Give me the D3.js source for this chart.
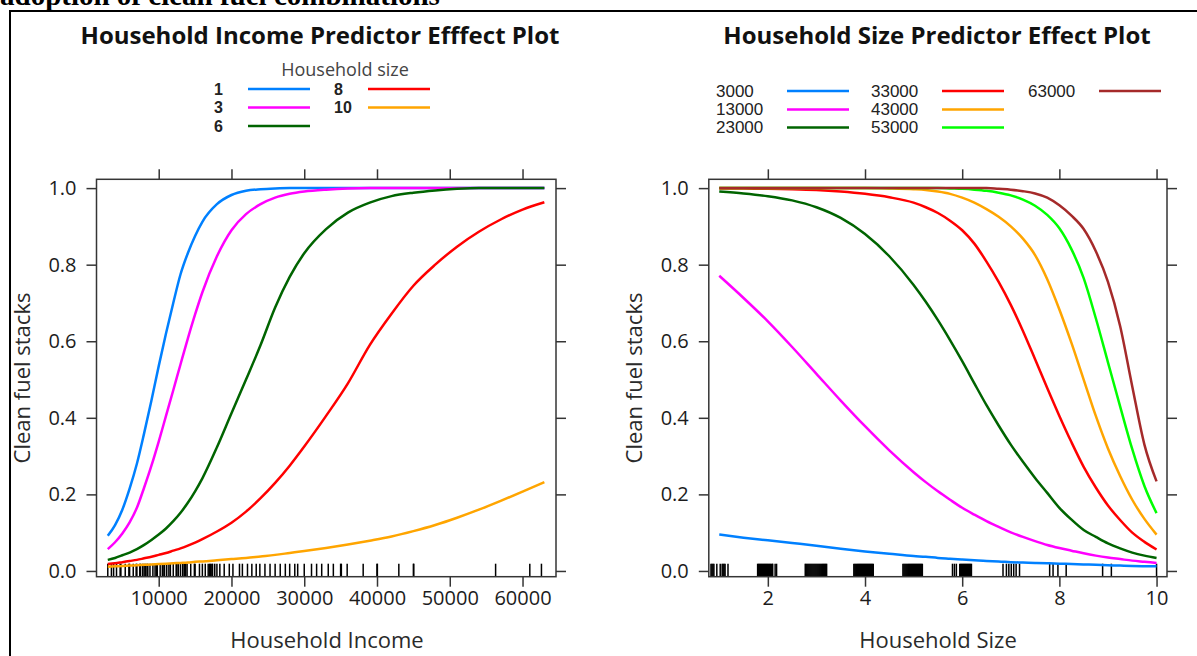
<!DOCTYPE html>
<html><head><meta charset="utf-8">
<script src="https://cdn.jsdelivr.net/npm/d3@7"></script>
<style>
html,body{margin:0;padding:0;background:#fff;}
svg{display:block;}
</style></head><body>
<svg id="chart" width="1197" height="656"></svg>
<script>
// ---- Household income effect (one line per household size) ----
const sizeGroups = ["1", "3", "6", "8", "10"];
const incomeGrid = [3000, 4000, 5000, 6000, 7000, 8000, 9000, 10000, 11000, 12000, 13000, 14000, 15000, 16000,
  18000, 20000, 22000, 24000, 26000, 28000, 30000, 33000, 36000, 39000, 42000, 45000, 48000, 51000, 54000, 57000, 60000, 63000];
const probSize1 = [0.092, 0.12, 0.16, 0.215, 0.28, 0.36, 0.445, 0.535, 0.62, 0.70, 0.775, 0.83, 0.875, 0.912,
  0.958, 0.982, 0.993, 0.997, 0.999, 1, 1, 1, 1, 1, 1, 1, 1, 1, 1, 1, 1, 1];
const probSize3 = [0.057, 0.075, 0.098, 0.127, 0.165, 0.218, 0.275, 0.338, 0.405, 0.472, 0.54, 0.607, 0.67, 0.728,
  0.822, 0.89, 0.932, 0.958, 0.975, 0.985, 0.991, 0.996, 0.999, 1, 1, 1, 1, 1, 1, 1, 1, 1];
const probSize6 = [0.029, 0.034, 0.041, 0.048, 0.057, 0.068, 0.081, 0.095, 0.111, 0.13, 0.152, 0.178, 0.208, 0.242,
  0.323, 0.412, 0.5, 0.59, 0.688, 0.768, 0.83, 0.893, 0.936, 0.962, 0.979, 0.988, 0.994, 0.998, 1, 1, 1, 1];
const probSize8 = [0.018, 0.02, 0.023, 0.026, 0.029, 0.033, 0.037, 0.042, 0.047, 0.053, 0.059, 0.066, 0.074, 0.083,
  0.103, 0.126, 0.155, 0.19, 0.23, 0.275, 0.325, 0.405, 0.49, 0.59, 0.672, 0.745, 0.80, 0.847, 0.886, 0.918, 0.944, 0.963];
const probSize10 = [0.011, 0.012, 0.013, 0.014, 0.015, 0.016, 0.017, 0.018, 0.019, 0.02, 0.021, 0.022, 0.024, 0.025,
  0.028, 0.031, 0.034, 0.038, 0.042, 0.047, 0.052, 0.06, 0.069, 0.079, 0.09, 0.104, 0.12, 0.139, 0.16, 0.183, 0.207, 0.232];
const sizeGroupColors = ["#0080ff", "#ff00ff", "#006400", "#ff0000", "#ffa500"];

// ---- Household size effect (one line per income level) ----
const incomeGroups = ["3000", "13000", "23000", "33000", "43000", "53000", "63000"];
const sizeGrid = [1, 1.5, 2, 2.5, 3, 3.5, 4, 4.5, 5, 5.25, 5.5, 5.75, 6, 6.25, 6.5, 6.75, 7, 7.25, 7.5, 7.75,
  8, 8.25, 8.5, 8.75, 9, 9.25, 9.5, 9.75, 10];
const probInc3000 = [0.095, 0.087, 0.08, 0.073, 0.066, 0.058, 0.051, 0.045, 0.039, 0.037, 0.034, 0.032, 0.03, 0.028,
  0.026, 0.025, 0.023, 0.022, 0.021, 0.02, 0.019, 0.018, 0.017, 0.016, 0.015, 0.014, 0.013, 0.0125, 0.012];
const probInc13000 = [0.771, 0.713, 0.652, 0.585, 0.515, 0.445, 0.378, 0.315, 0.258, 0.232, 0.208, 0.186, 0.165, 0.147,
  0.13, 0.115, 0.101, 0.089, 0.078, 0.068, 0.06, 0.053, 0.046, 0.04, 0.035, 0.031, 0.027, 0.024, 0.021];
const probInc23000 = [0.991, 0.986, 0.979, 0.968, 0.95, 0.922, 0.88, 0.822, 0.747, 0.703, 0.655, 0.603, 0.548, 0.49,
  0.433, 0.38, 0.33, 0.285, 0.243, 0.204, 0.165, 0.134, 0.107, 0.089, 0.072, 0.059, 0.048, 0.04, 0.034];
const probInc33000 = [0.999, 0.999, 0.998, 0.997, 0.995, 0.991, 0.985, 0.976, 0.962, 0.95, 0.935, 0.915, 0.89, 0.855,
  0.808, 0.755, 0.695, 0.627, 0.553, 0.478, 0.405, 0.336, 0.272, 0.218, 0.171, 0.133, 0.1, 0.076, 0.056];
const probInc43000 = [1, 1, 1, 1, 1, 1, 1, 0.999, 0.997, 0.995, 0.991, 0.985, 0.975, 0.962,
  0.945, 0.925, 0.9, 0.868, 0.825, 0.762, 0.683, 0.595, 0.5, 0.405, 0.32, 0.248, 0.186, 0.136, 0.095];
const probInc53000 = [1, 1, 1, 1, 1, 1, 1, 1, 1, 1, 1, 0.999, 0.998, 0.996,
  0.993, 0.988, 0.981, 0.97, 0.954, 0.93, 0.895, 0.84, 0.765, 0.66, 0.545, 0.43, 0.318, 0.222, 0.151];
const probInc63000 = [1, 1, 1, 1, 1, 1, 1, 1, 1, 1, 1, 1, 1, 1,
  1, 0.998, 0.996, 0.992, 0.986, 0.975, 0.955, 0.928, 0.893, 0.835, 0.755, 0.64, 0.482, 0.33, 0.234];
const incomeGroupColors = ["#0080ff", "#ff00ff", "#006400", "#ff0000", "#ffa500", "#00ff00", "#a52a2a"];

// ---- observed values shown as rugs ----
const incomeRug = [3000, 3500, 3800, 4200, 4700, 4800, 5400, 5900, 6000, 6500, 6900, 7000, 7400, 7500, 7800, 8000, 8200,
  8400, 8500, 8800, 9200, 9500, 9700, 9800, 10200, 10500, 10600, 10800, 11100, 11400, 11600, 12000, 12400, 12500,
  12700, 13000, 13300, 13500, 13600, 13700, 13900, 14400, 14900, 15000, 15600, 16000, 16400, 16800, 17000, 17100,
  17300, 17400, 17700, 18000, 18400, 19000, 19700, 20200, 21100, 21500, 22200, 22800, 23400, 23900, 24600, 25300,
  26000, 26700, 27400, 28000, 28700, 29100, 30000, 31000, 31700, 32400, 33300, 34000, 35000, 35100, 35900, 38100,
  40000, 40050, 43000, 45000, 45050, 56300, 61000, 62600];
const sizeRug = [0.83, 0.85, 0.87, 0.89, 0.95, 1.02, 1.06, 1.08, 1.1, 1.12, 1.18,
  1.79, 1.81, 1.83, 1.85, 1.87, 1.89, 1.91, 1.93, 1.95, 1.97, 1.99, 2.01, 2.03, 2.05, 2.07, 2.09, 2.1, 2.15, 2.18,
  2.77, 2.79, 2.81, 2.83, 2.85, 2.87, 2.89, 2.91, 2.93, 2.95, 2.97, 2.99, 3.01, 3.03, 3.05, 3.07, 3.09, 3.11, 3.13, 3.15, 3.17, 3.19, 3.21,
  3.77, 3.79, 3.81, 3.83, 3.85, 3.87, 3.89, 3.91, 3.93, 3.95, 3.97, 3.99, 4.01, 4.03, 4.05, 4.07, 4.09, 4.11, 4.13, 4.15, 4.17,
  4.78, 4.8, 4.82, 4.84, 4.86, 4.88, 4.9, 4.92, 4.94, 4.96, 4.98, 5.0, 5.02, 5.04, 5.06, 5.08, 5.1, 5.12, 5.14, 5.16, 5.18,
  5.8, 5.84, 5.88, 5.95, 5.97, 5.99, 6.01, 6.03, 6.05, 6.07, 6.09, 6.11, 6.13, 6.15, 6.17, 6.19,
  6.84, 6.91, 6.96, 7.01, 7.06, 7.11, 7.18, 7.8, 7.87, 7.97, 8.14, 8.89, 9.07, 10.0];

const incomeTicks = [10000, 20000, 30000, 40000, 50000, 60000];
const sizeTicks = [2, 4, 6, 8, 10];
const probTicks = [0, 0.2, 0.4, 0.6, 0.8, 1.0];

const svg = d3.select("#chart");
const uiFont = "'Open Sans', 'Noto Sans', sans-serif";
const axisColor = "#353535";

// heading of the surrounding document, cut at the top edge
svg.append("text")
  .attr("x", 0).attr("y", 5)
  .attr("font-family", "'Liberation Serif', serif")
  .attr("font-weight", "bold").attr("font-size", 29)
  .attr("fill", "#000")
  .text("adoption of clean fuel combinations");

// frame around the figure
svg.append("path")
  .attr("d", "M10,656 V11 H1197")
  .attr("fill", "none").attr("stroke", "#000").attr("stroke-width", 2);

function drawPanel(cfg) {
  const g = svg.append("g");
  const x = d3.scaleLinear().domain(cfg.xDomain).range([cfg.left, cfg.right]);
  const y = d3.scaleLinear().domain([-0.015, 1.023]).range([cfg.bottom, cfg.top]);

  // title
  g.append("text")
    .attr("x", cfg.titleX).attr("y", 44)
    .attr("text-anchor", "middle")
    .attr("font-family", uiFont).attr("font-weight", 700).attr("font-size", 24)
    .attr("fill", "#111")
    .text(cfg.title);

  // axes on all four sides
  const styleAxis = sel => {
    sel.select(".domain").remove();
    sel.selectAll(".tick line").attr("stroke", axisColor).attr("stroke-width", 1.5);
    sel.selectAll(".tick text").attr("font-family", uiFont).attr("font-size", 20).attr("fill", "#1c1c1c");
  };
  g.append("g").attr("transform", `translate(0,${cfg.bottom})`)
    .call(d3.axisBottom(x).tickValues(cfg.xTicks).tickSize(10).tickPadding(4).tickFormat(d3.format("d")))
    .call(styleAxis);
  g.append("g").attr("transform", `translate(0,${cfg.top})`)
    .call(d3.axisTop(x).tickValues(cfg.xTicks).tickSize(10).tickFormat(""))
    .call(styleAxis);
  g.append("g").attr("transform", `translate(${cfg.left},0)`)
    .call(d3.axisLeft(y).tickValues(probTicks).tickSize(10).tickPadding(10).tickFormat(d3.format(".1f")))
    .call(styleAxis);
  g.append("g").attr("transform", `translate(${cfg.right},0)`)
    .call(d3.axisRight(y).tickValues(probTicks).tickSize(10).tickFormat(""))
    .call(styleAxis);

  // rug of observed values
  g.append("g").selectAll("line").data(cfg.rug).join("line")
    .attr("x1", d => x(d)).attr("x2", d => x(d))
    .attr("y1", cfg.bottom).attr("y2", cfg.bottom - 13)
    .attr("stroke", "#000").attr("stroke-width", 1.5);

  // effect curves
  const line = d3.line().x(d => x(d[0])).y(d => y(d[1])).curve(d3.curveMonotoneX);
  cfg.series.forEach((vals, i) => {
    g.append("path")
      .datum(cfg.grid.map((gx, j) => [gx, vals[j]]))
      .attr("d", line)
      .attr("fill", "none")
      .attr("stroke", cfg.colors[i])
      .attr("stroke-width", 2.5)
      .attr("stroke-linejoin", "round");
  });

  // panel box
  g.append("rect")
    .attr("x", cfg.left).attr("y", cfg.top)
    .attr("width", cfg.right - cfg.left).attr("height", cfg.bottom - cfg.top)
    .attr("fill", "none").attr("stroke", axisColor).attr("stroke-width", 1.5);

  // axis titles
  g.append("text")
    .attr("x", cfg.xTitleX).attr("y", 648)
    .attr("text-anchor", "middle")
    .attr("font-family", uiFont).attr("font-size", 22).attr("fill", "#2a2a2a")
    .text(cfg.xTitle);
  g.append("text")
    .attr("transform", `translate(${cfg.yTitleX},${(cfg.top + cfg.bottom) / 2}) rotate(-90)`)
    .attr("text-anchor", "middle")
    .attr("font-family", uiFont).attr("font-size", 22).attr("fill", "#2a2a2a")
    .text("Clean fuel stacks");

  // legend
  const lg = g.append("g");
  if (cfg.legendTitle) {
    lg.append("text")
      .attr("x", cfg.legendTitle.x).attr("y", cfg.legendTitle.y)
      .attr("text-anchor", "middle")
      .attr("font-family", uiFont).attr("font-size", 18).attr("fill", "#444")
      .text(cfg.legendTitle.text);
  }
  cfg.legendLabels.forEach((lab, i) => {
    const col = Math.floor(i / 3), row = i % 3;
    const cx = cfg.legend.cols[col], cy = cfg.legend.rows[row];
    lg.append("text")
      .attr("x", cx).attr("y", cy + 5.5)
      .attr("font-family", "'Liberation Sans', Arial, sans-serif")
      .attr("font-weight", cfg.legend.bold ? "bold" : "normal")
      .attr("font-size", cfg.legend.fontSize).attr("fill", "#222")
      .text(lab);
    lg.append("line")
      .attr("x1", cx + cfg.legend.lineStart).attr("x2", cx + cfg.legend.lineStart + 62)
      .attr("y1", cy).attr("y2", cy)
      .attr("stroke", cfg.colors[i]).attr("stroke-width", 2.5);
  });
}

drawPanel({
  left: 96.5, right: 556, top: 179.3, bottom: 576.7,
  xDomain: [1450, 64600], xTicks: incomeTicks,
  grid: incomeGrid,
  series: [probSize1, probSize3, probSize6, probSize8, probSize10],
  colors: sizeGroupColors,
  rug: incomeRug,
  title: "Household Income Predictor Efffect Plot", titleX: 320,
  xTitle: "Household Income", xTitleX: 327, yTitleX: 30,
  legendTitle: { text: "Household size", x: 345, y: 76 },
  legendLabels: sizeGroups,
  legend: { cols: [214, 334], rows: [89, 107.5, 126], lineStart: 34, fontSize: 16, bold: true }
});

drawPanel({
  left: 708.8, right: 1167, top: 179.3, bottom: 576.7,
  xDomain: [0.785, 10.215], xTicks: sizeTicks,
  grid: sizeGrid,
  series: [probInc3000, probInc13000, probInc23000, probInc33000, probInc43000, probInc53000, probInc63000],
  colors: incomeGroupColors,
  rug: sizeRug,
  title: "Household Size Predictor Effect Plot", titleX: 937,
  xTitle: "Household Size", xTitleX: 938, yTitleX: 642,
  legendTitle: null,
  legendLabels: incomeGroups,
  legend: { cols: [716, 871, 1028], rows: [91, 109.5, 127.5], lineStart: 71, fontSize: 17, bold: false }
});
</script>
</body></html>
